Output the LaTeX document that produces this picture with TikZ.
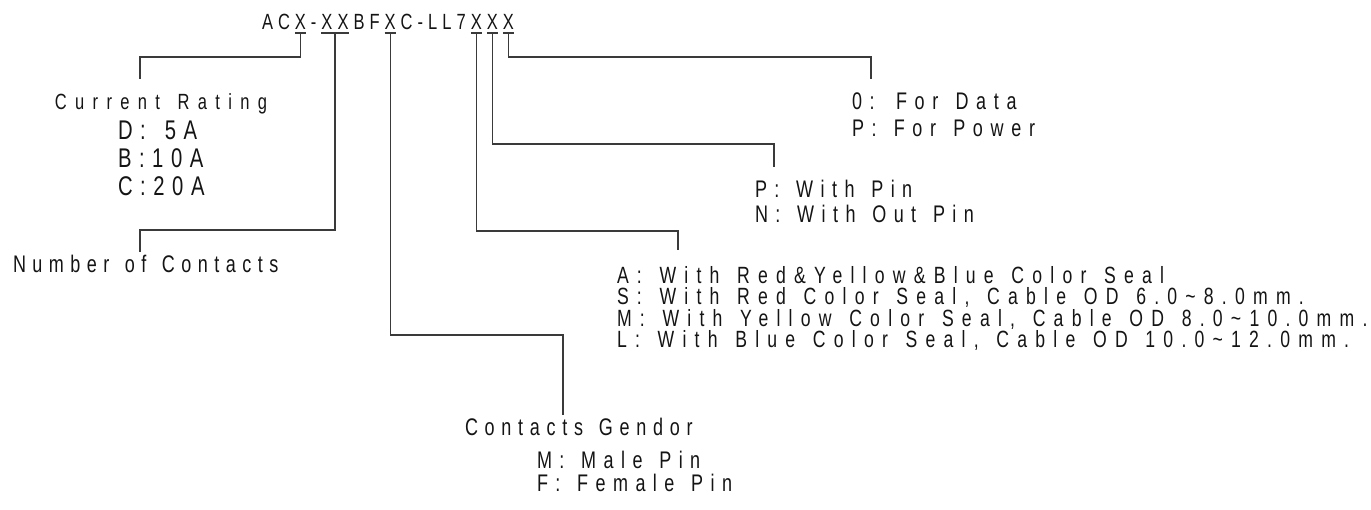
\documentclass[tikz,border=0pt]{standalone}
\usepackage{fontspec}
\newfontfamily\cadfont[FakeStretch=0.75,WordSpace=1.35]{Liberation Sans}
\newcommand{\cadtype}[3]{\cadfont\addfontfeatures{LetterSpace=#3}\fontsize{#1}{#2}\selectfont}
\usetikzlibrary{positioning,calc}
\definecolor{cadline}{HTML}{3A3A3A}
\definecolor{cadtext}{HTML}{141414}

\begin{document}
\begin{tikzpicture}[x=1pt,y=-1pt,
  code/.style={inner sep=0pt,outer sep=0pt,text=cadtext,font=\cadtype{22}{22}{23}},
  slot/.style={code,inner ysep=3.5pt},
  lead/.style={draw=cadline,line width=1.1pt},
  codenote/.style={inner xsep=0pt,inner ysep=#1,outer sep=0pt,anchor=north west,align=left,text=cadtext}]
  \useasboundingbox (0,0) rectangle (1371,509);

  % 型号
  \node[code,anchor=base west] (t1) at (262,29.5) {AC};
  \node[slot,base right=5pt of t1] (x1) {X};
  \node[code,base right=5pt of x1] (t2) {-};
  \node[slot,base right=5pt of t2] (x2) {XX};
  \node[code,base right=5pt of x2] (t3) {BF};
  \node[slot,base right=5pt of t3] (x3) {X};
  \node[code,base right=5pt of x3] (t4) {C-LL7};
  \node[slot,base right=5pt of t4] (x4) {X};
  \node[slot,base right=5pt of x4] (x5) {X};
  \node[slot,base right=5pt of x5] (x6) {X};
  \foreach \s in {x1,x2,x3,x4,x5,x6}
    \draw[lead] (\s.south west) -- (\s.south east);

  % 说明
  \node[codenote=15pt,anchor=north,font=\cadtype{22}{22}{38}] (rate) at (161,79) {Current Rating};
  \node[codenote=0pt,font=\cadtype{27}{28}{28}] (amps) at (118,120.6)
    {D:\hspace{19pt}5A\\B:10A\\C:20A};
  \node[codenote=3.4pt,font=\cadtype{24}{24}{27}] (count) at (13,252) {Number of Contacts};
  \node[codenote=2.7pt,font=\cadtype{24}{24}{28}] (sex) at (465,415) {Contacts Gendor};
  \node[codenote=0pt,font=\cadtype{24}{23.5}{31}] (sexitem) at (537,451)
    {M: Male Pin\\F: Female Pin};
  \node[codenote=16pt,font=\cadtype{23.5}{21.5}{35}] (seal) at (617,250)
    {A: With Red\&Yellow\&Blue Color Seal\\
     S: With Red Color Seal, Cable OD 6.0\textasciitilde8.0mm.\\
     M: With Yellow Color Seal, Cable OD 8.0\textasciitilde10.0mm.\\
     L: With Blue Color Seal, Cable OD 10.0\textasciitilde12.0mm.};
  \node[codenote=12.7pt,font=\cadtype{24}{25}{31}] (pin) at (755,167)
    {P: With Pin\\N: With Out Pin};
  \node[codenote=13.7pt,font=\cadtype{24}{27}{32}] (use) at (852,79)
    {0: For Data\\P: For Power};

  % 引线
  \coordinate (k1) at (140,57);
  \coordinate (k2) at (140,230);
  \coordinate (k3) at (563,335);
  \coordinate (k4) at (678,231);
  \coordinate (k5) at (774,144);
  \coordinate (k6) at (871,57);
  \draw[lead] (x1.south) |- (k1) -- (k1 |- rate.north);
  \draw[lead] (x2.south) |- (k2) -- (k2 |- count.north);
  \draw[lead] (x3.south) |- (k3) -- (k3 |- sex.north);
  \draw[lead] (x4.south) |- (k4) -- (k4 |- seal.north);
  \draw[lead] (x5.south) |- (k5) -- (k5 |- pin.north);
  \draw[lead] (x6.south) |- (k6) -- (k6 |- use.north);
\end{tikzpicture}
\end{document}
